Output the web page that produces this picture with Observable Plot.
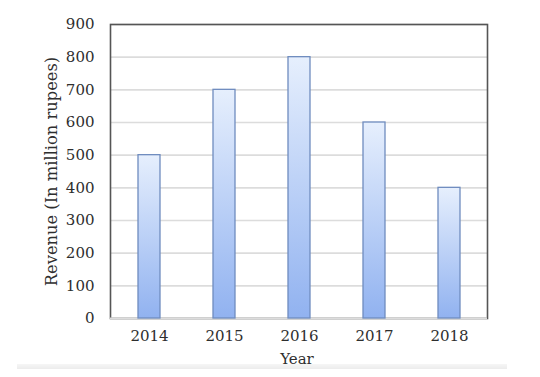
<!DOCTYPE html>
<html>
<head>
<meta charset="utf-8">
<script src="https://cdn.jsdelivr.net/npm/d3@7"></script>
<script src="https://cdn.jsdelivr.net/npm/@observablehq/plot@0.6"></script>
<style>
  html, body { margin: 0; padding: 0; background: #fff; }
  #wrap { position: relative; width: 540px; height: 377px; overflow: hidden; }
  #wrap svg { position: absolute; left: 0; top: 0; z-index: 2; }
  #strip { position: absolute; left: 17px; top: 364px; width: 490px; height: 5px; z-index: 1;
           background: linear-gradient(#f6f6f6, #ececec); }
</style>
</head>
<body>
<div id="wrap"><div id="strip"></div></div>
<script>
const years = ["2014", "2015", "2016", "2017", "2018"];
const revenue = [500, 700, 800, 600, 400];
const yTicks = [0, 100, 200, 300, 400, 500, 600, 700, 800, 900];
const xTitle = "Year";
const yTitle = "Revenue (In million rupees)";

const data = years.map((y, i) => ({year: y, value: revenue[i]}));
const font = "DejaVu Serif, serif";
const textColor = "#2e2e2e";

const chart = Plot.plot({
  width: 540,
  height: 377,
  marginTop: 24,
  marginBottom: 59,
  marginLeft: 110,
  marginRight: 53,
  style: {fontFamily: font, fontSize: "15px", color: textColor, background: "transparent"},
  x: {domain: years, paddingInner: 0.71, paddingOuter: 0.355},
  y: {domain: [0, 900]},
  marks: [
    Plot.gridY(yTicks, {stroke: "#dcdcdc", strokeOpacity: 1, strokeWidth: 1.6}),
    Plot.frame({stroke: "#555", strokeWidth: 1.6}),
    Plot.ruleY([0], {stroke: "#dcdcdc", strokeWidth: 2}),
    Plot.barY(data, {x: "year", y: "value", fill: "url(#barGrad)", stroke: "#6f8cbf", strokeWidth: 1.3}),
    Plot.axisY(yTicks, {tickSize: 0, tickPadding: 16, label: null, fontSize: 15, fill: textColor}),
    Plot.axisX({tickSize: 0, tickPadding: 12, label: null, fontSize: 15, fill: textColor})
  ]
});

const svg = d3.select(chart);
const defs = svg.insert("defs", ":first-child");
const g = defs.append("linearGradient").attr("id", "barGrad")
  .attr("x1", 0).attr("y1", 0).attr("x2", 0).attr("y2", 1);
g.append("stop").attr("offset", "0%").attr("stop-color", "#e6effd");
g.append("stop").attr("offset", "100%").attr("stop-color", "#91b2f0");

// axis titles
svg.append("text")
  .attr("transform", "translate(51,171.5) rotate(-90)")
  .attr("text-anchor", "middle").attr("dy", "0.35em")
  .attr("font-size", 16.3).attr("fill", textColor).attr("font-family", font)
  .text(yTitle);
svg.append("text")
  .attr("x", 297).attr("y", 358.5)
  .attr("text-anchor", "middle").attr("dy", "0.35em")
  .attr("font-size", 15).attr("fill", textColor).attr("font-family", font)
  .text(xTitle);

document.getElementById("wrap").prepend(chart);
</script>
</body>
</html>
